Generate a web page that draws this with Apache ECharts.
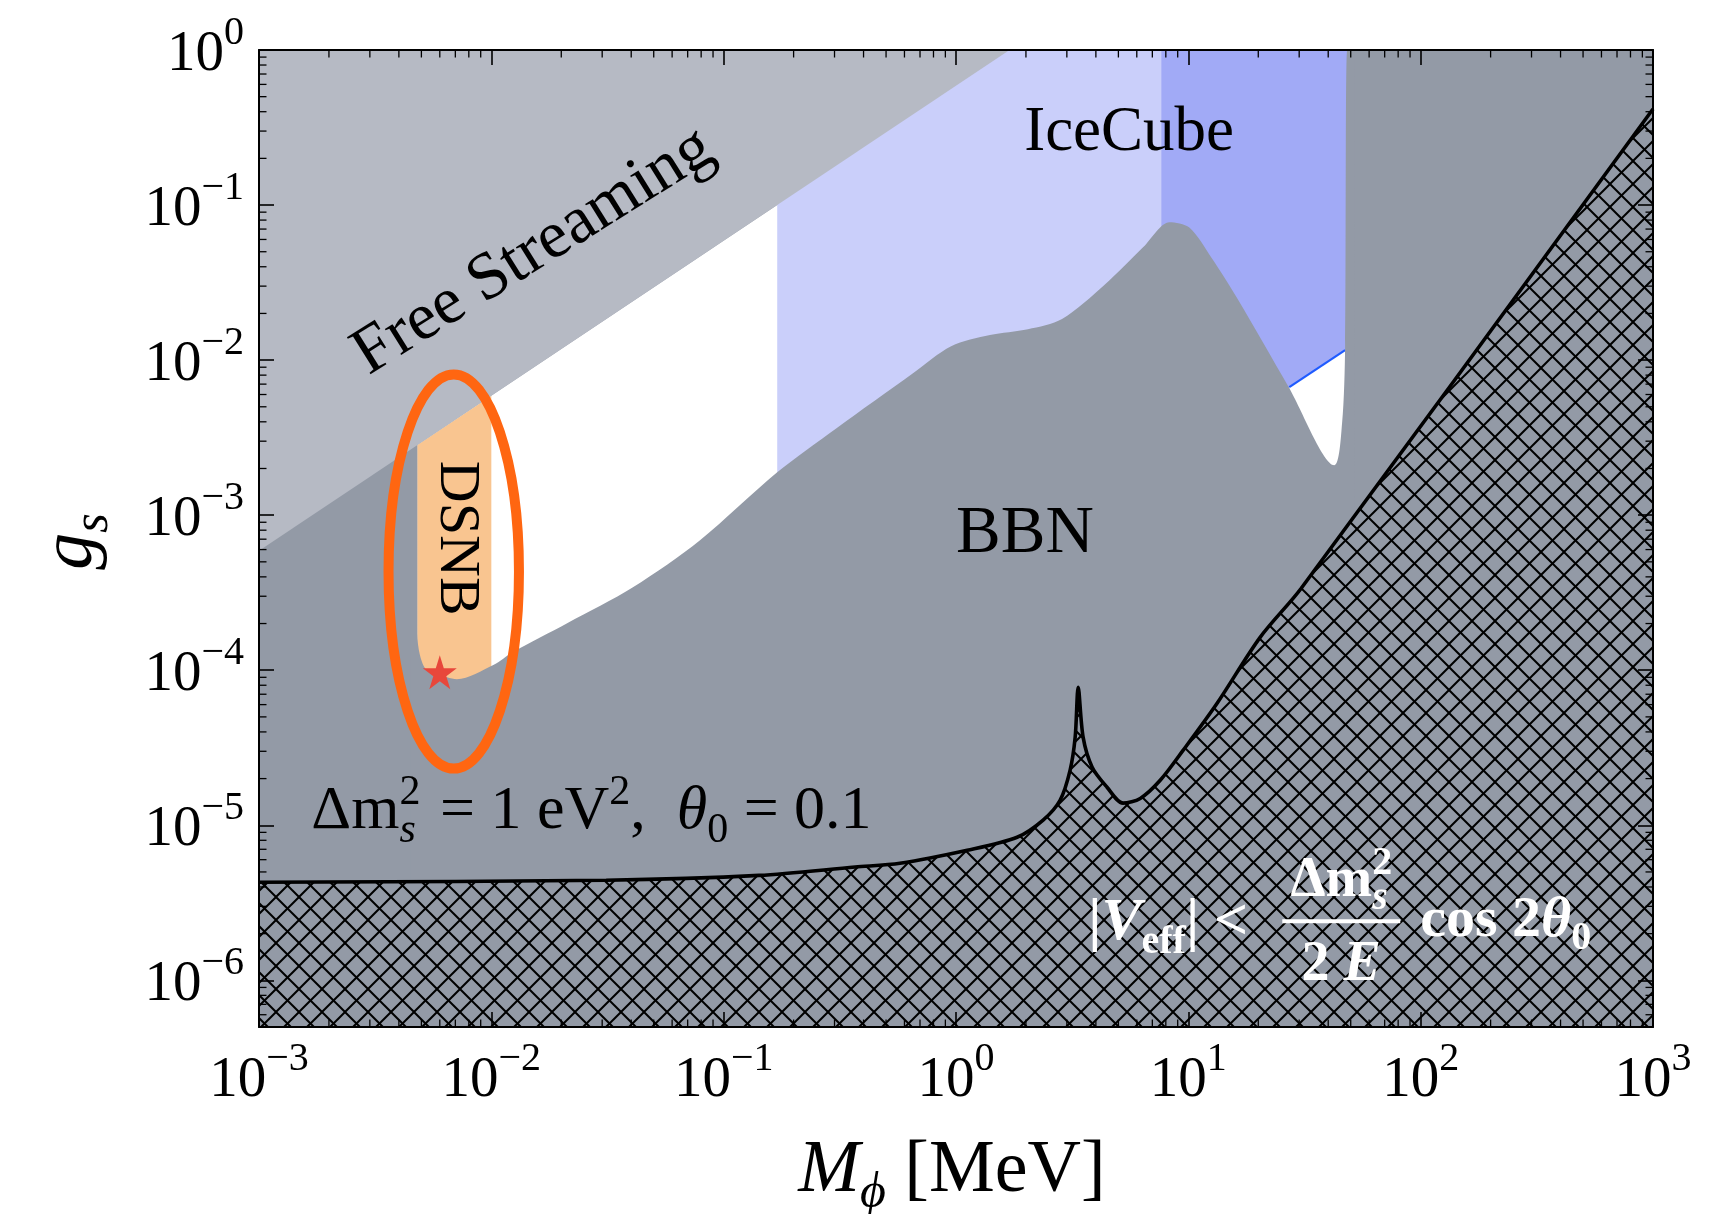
<!DOCTYPE html>
<html>
<head>
<meta charset="utf-8">
<title>g_s vs M_phi constraints</title>
<script src="https://cdn.jsdelivr.net/npm/echarts@6/dist/echarts.min.js"></script>
<style>
  html, body { margin: 0; padding: 0; background: #fff; }
  #chart { width: 1728px; height: 1214px; }
</style>
</head>
<body>
<div id="chart"></div>
<script>
// axis ranges: M_phi in MeV, g_s dimensionless (both log10)
var xRange = [1e-3, 1e3];
var yRange = [5e-7, 1];
var xTickExp = [-3, -2, -1, 0, 1, 2, 3];
var yTickExp = [-6, -5, -4, -3, -2, -1, 0];

// free streaming bound, excluded above the line
var fsM = [1e-3, 1.7];
var fsG = [5.9e-4, 1];

// top edge of the allowed (white) window
var openM = [4.8e-3, 1.7, 48.3];
var openG = [2.83e-3, 1, 1];

// DSNB strip
var dsnbM = [4.8e-3, 1.0e-2];
var dsnbG = [2.83e-3, 5.9e-3];

// IceCube bands
var iceLightM = [0.17, 7.64];
var iceLightG = [1, 1];
var iceDarkM = [7.64, 48.3];
var iceDarkG = [1, 1];
var iceEdgeM = [27.2, 47.3];
var iceEdgeG = [6.7e-3, 1.16e-2];

// BBN bound, excluded below
var bbnM = [4.5e-3, 4.8e-3, 4.8e-3, 4.93e-3, 5.28e-3, 6.44e-3, 7.11e-3, 1.02e-2, 1.24e-2, 2.12e-2, 4.07e-2,
  7.91e-2, 0.170, 0.306, 0.653, 0.953, 1.40, 2.04, 2.86, 4.35, 6.40,
  8.30, 10.1, 12.6, 16.4, 26.9, 42.5, 45.9, 47.3, 48.3, 52];
var bbnG = [2.65e-3, 2.83e-3, 1.73e-4, 1.25e-4, 1.0e-4, 9.0e-5, 8.75e-5, 1.08e-4, 1.31e-4, 2.01e-4, 3.43e-4,
  6.9e-4, 1.89e-3, 3.64e-3, 8.24e-3, 1.23e-2, 1.45e-2, 1.58e-2, 1.84e-2, 3.05e-2, 5.36e-2,
  7.76e-2, 7.16e-2, 4.55e-2, 2.44e-2, 6.79e-3, 2.10e-3, 3.93e-3, 1.23e-2, 1, 1];

// |V_eff| < dm^2/2E cos 2theta0 boundary (hatched below)
var veffM = [1e-3, 0.0312, 0.142, 0.368, 0.574, 1.117, 1.832, 2.371, 2.805, 3.097,
  3.258, 3.357, 3.524, 3.855, 4.467, 5.236, 6.209, 7.568, 9.506, 13.30,
  20.37, 30.62, 1000];
var veffG = [4.29e-6, 4.42e-6, 4.75e-6, 5.38e-6, 5.69e-6, 6.90e-6, 8.37e-6, 1.08e-5, 1.45e-5, 2.26e-5,
  3.70e-5, 7.76e-5, 3.70e-5, 2.37e-5, 1.76e-5, 1.39e-5, 1.49e-5, 1.95e-5, 3.05e-5, 6.12e-5,
  1.63e-4, 3.38e-4, 0.416];

// orange oval around the DSNB window, and the benchmark star
var ovalM = [3.61e-3, 1.315e-2];
var ovalG = [2.32e-5, 8.09e-3];
var starM = [6.0e-3];
var starG = [9.7e-5];

var lg = Math.log10;
function pts(ms, gs) {
  return ms.map(function (m, i) { return [lg(m), lg(gs[i])]; });
}
var X0 = lg(xRange[0]), X1 = lg(xRange[1]), Y0 = lg(yRange[0]), Y1 = lg(yRange[1]);

var C = {
  bbn: '#939aa6', fs: '#b6bac4', iceLight: '#cacffa', iceDark: '#a1aaf6',
  dsnb: '#f9c590', edge: '#1f5bff', oval: '#ff6611', star: '#e8473b'
};
var SERIF = 'Liberation Serif, Times New Roman, serif';

function hatch() {
  var s = 23, c = document.createElement('canvas');
  c.width = s; c.height = s;
  var g = c.getContext('2d');
  g.fillStyle = C.bbn;
  g.fillRect(0, 0, s, s);
  g.strokeStyle = '#000';
  g.lineWidth = 2;
  [-s, 0, s].forEach(function (o) {
    g.beginPath(); g.moveTo(o, 0); g.lineTo(o + s, s); g.stroke();
    g.beginPath(); g.moveTo(o + s, 0); g.lineTo(o, s); g.stroke();
  });
  return c;
}

function area(name, data, color, z, extra) {
  var s = {
    name: name, type: 'line', data: data, z: z, symbol: 'none', silent: true,
    lineStyle: { width: 0 },
    areaStyle: { color: color, opacity: 1, origin: 'start' }
  };
  for (var k in (extra || {})) s[k] = extra[k];
  return s;
}

function expLabel(v) {
  var e = Math.round(v);
  if (Math.abs(v - e) > 1e-6) return '';
  return '{b|10}{s|' + (e < 0 ? '\u2212' + (-e) : e) + '}';
}
var labelRich = {
  b: { fontFamily: SERIF, fontSize: 57, color: '#000', padding: [10, 0, 0, 0] },
  s: { fontFamily: SERIF, fontSize: 40, color: '#000', padding: [0, 0, 34, 0] }
};

function xAx(pos, show) {
  return {
    type: 'value', position: pos, min: X0, max: X1, interval: 1, z: 50,
    axisLine: { show: true, onZero: false, lineStyle: { color: '#000', width: 2 } },
    axisTick: { show: true, inside: true, length: 15, lineStyle: { color: '#000', width: 1.6 } },
    splitLine: { show: false },
    axisLabel: show ? { show: true, margin: 12, formatter: expLabel, rich: labelRich } : { show: false }
  };
}
function yAx(pos, show) {
  return {
    type: 'value', position: pos, min: Y0, max: Y1, minInterval: 1, maxInterval: 1, z: 50,
    axisLine: { show: true, onZero: false, lineStyle: { color: '#000', width: 2 } },
    axisTick: { show: true, inside: true, length: 15, lineStyle: { color: '#000', width: 1.6 } },
    splitLine: { show: false },
    axisLabel: show ? { show: true, margin: 15, formatter: expLabel, rich: labelRich } : { show: false }
  };
}

// minor ticks at 2..9 of every decade, all four sides
var minorTicks = [];
var d, k, v;
for (d = Math.floor(X0); d < X1; d++) {
  for (k = 2; k < 10; k++) {
    v = d + lg(k);
    if (v > X0 && v < X1) { minorTicks.push([v, 0]); minorTicks.push([v, 1]); }
  }
}
for (d = Math.floor(Y0); d < Y1; d++) {
  for (k = 2; k < 10; k++) {
    v = d + lg(k);
    if (v > Y0 + 1e-6 && v < Y1) { minorTicks.push([v, 2]); minorTicks.push([v, 3]); }
  }
}

var chart = echarts.init(document.getElementById('chart'));
var option = {
  animation: false,
  backgroundColor: '#fff',
  grid: { left: 259, right: 75, top: 50, bottom: 187, show: true, backgroundColor: C.bbn, borderWidth: 0, outerBoundsMode: 'none' },
  xAxis: [xAx('bottom', true), xAx('top', false)],
  yAxis: [yAx('left', true), yAx('right', false)],
  series: [
    area('open', pts(openM, openG), '#fff', 2),
    area('IceCube', pts(iceLightM, iceLightG), C.iceLight, 3),
    area('IceCube 2', pts(iceDarkM, iceDarkG), C.iceDark, 4),
    area('IceCube edge', pts(iceEdgeM, iceEdgeG), '#fff', 5, { lineStyle: { width: 2.2, color: C.edge } }),
    area('DSNB', pts(dsnbM, dsnbG), C.dsnb, 6),
    area('BBN', pts(bbnM, bbnG), C.bbn, 7, { smooth: 0.3 }),
    area('Free Streaming', pts(fsM, fsG), C.fs, 8, {
      areaStyle: { color: C.fs, opacity: 1, origin: 'end' }
    }),
    area('Veff', pts(veffM, veffG), { image: hatch(), repeat: 'repeat' }, 9, {
      smooth: 0.3,
      lineStyle: { width: 3.6, color: '#000' }
    }),
    {
      name: 'minor ticks', type: 'custom', z: 55, silent: true, data: minorTicks,
      renderItem: function (params, api) {
        var val = api.value(0), side = api.value(1), cs = params.coordSys, L = 7.5, x, y, shape;
        if (side < 2) {
          x = api.coord([val, Y0])[0];
          y = side === 0 ? cs.y + cs.height : cs.y;
          shape = { x1: x, y1: y, x2: x, y2: side === 0 ? y - L : y + L };
        } else {
          y = api.coord([X0, val])[1];
          x = side === 2 ? cs.x : cs.x + cs.width;
          shape = { x1: x, y1: y, x2: side === 2 ? x + L : x - L, y2: y };
        }
        return { type: 'line', shape: shape, style: { stroke: '#000', lineWidth: 1.3 } };
      }
    },
    {
      name: 'oval', type: 'custom', z: 60, silent: true,
      data: [[lg(ovalM[0]), lg(ovalG[0]), lg(ovalM[1]), lg(ovalG[1])]],
      renderItem: function (params, api) {
        var a = api.coord([api.value(0), api.value(1)]);
        var b = api.coord([api.value(2), api.value(3)]);
        return {
          type: 'ellipse',
          shape: { cx: (a[0] + b[0]) / 2, cy: (a[1] + b[1]) / 2, rx: Math.abs(b[0] - a[0]) / 2, ry: Math.abs(b[1] - a[1]) / 2 },
          style: { fill: 'none', stroke: C.oval, lineWidth: 10 }
        };
      }
    },
    {
      name: 'benchmark', type: 'scatter', z: 70, silent: true, data: pts(starM, starG),
      symbol: 'path://M50 0L61.2 34.5H97.6L68.2 55.9L79.4 90.5L50 69.1L20.6 90.5L31.8 55.9L2.4 34.5H38.8Z',
      symbolSize: 34, itemStyle: { color: C.star, opacity: 1 }
    }
  ]
};
chart.setOption(option);

// ---- text annotations ----
var ctx2d = document.createElement('canvas').getContext('2d');
function fontOf(p) {
  return (p.it ? 'italic ' : '') + (p.b ? 'bold ' : '') + p.s + 'px ' + SERIF;
}
// one baseline run of text pieces; a piece may hold a sup/sub stack
function run(pieces, o) {
  var kids = [], x = 0;
  pieces.forEach(function (p) {
    var stack = p.stack || [p];
    var w = 0;
    stack.forEach(function (q) {
      var f = fontOf(q);
      ctx2d.font = f;
      w = Math.max(w, ctx2d.measureText(q.t).width);
      kids.push({
        type: 'text', x: x, y: (q.dy || 0) - 0.3375 * q.s, z: 100,
        style: { text: q.t, font: f, fill: o.color || '#000', align: 'left', verticalAlign: 'middle' }
      });
    });
    x += w + (p.gap || 0);
  });
  var dx = o.align === 'center' ? -x / 2 : (o.align === 'right' ? -x : 0);
  var dy = o.vcenter || 0;
  kids.forEach(function (kid) { kid.x += dx; kid.y += dy; });
  return { type: 'group', x: o.x, y: o.y, rotation: o.rot || 0, silent: true, z: 100, children: kids };
}
function px(m, g) { return chart.convertToPixel({ gridIndex: 0 }, [lg(m), lg(g)]); }

var g = [], p;
var lo = px(xRange[0], yRange[0]), hi = px(xRange[1], yRange[1]);

p = px(5.56, 0.21);
g.push(run([{ t: 'IceCube', s: 63 }], { x: p[0], y: p[1], align: 'center' }));
p = px(1.98, 5.36e-4);
g.push(run([{ t: 'BBN', s: 67 }], { x: p[0], y: p[1], align: 'center' }));
p = px(7.05e-3, 7.1e-4);
g.push(run([{ t: 'DSNB', s: 58 }], { x: p[0], y: p[1], align: 'center', vcenter: 19, rot: -Math.PI / 2 }));
p = px(0.0171, 0.0376);
g.push(run([{ t: 'Free Streaming', s: 67 }], { x: p[0], y: p[1], align: 'center', rot: 32 * Math.PI / 180 }));

p = px(1.68e-3, 9.0e-6);
g.push(run([
  { t: '\u0394m', s: 62 },
  { stack: [{ t: '2', s: 42, dy: -25 }, { t: 's', s: 42, it: 1, dy: 13 }], gap: 4 },
  { t: ' = 1 eV', s: 62 },
  { t: '2', s: 42, dy: -25 },
  { t: ',  ', s: 62 },
  { t: '\u03b8', s: 62, it: 1 },
  { t: '0', s: 42, dy: 13 },
  { t: ' = 0.1', s: 62 }
], { x: p[0], y: p[1] }));

p = px(3.71, 1.71e-6);
var W = '#fff';
g.push(run([
  { t: '|', s: 60, b: 1 },
  { t: 'V', s: 60, b: 1, it: 1 },
  { t: 'eff', s: 40, b: 1, dy: 12 },
  { t: '| <', s: 60, b: 1 }
], { x: p[0], y: p[1], color: W }));
g.push(run([
  { t: '\u0394m', s: 56, b: 1 },
  { stack: [{ t: '2', s: 40, b: 1, dy: -23 }, { t: 's', s: 40, b: 1, it: 1, dy: 12 }] }
], { x: p[0] + 253, y: p[1] - 44, align: 'center', color: W }));
g.push(run([
  { t: '2 ', s: 56, b: 1 },
  { t: 'E', s: 56, b: 1, it: 1 }
], { x: p[0] + 253, y: p[1] + 40, align: 'center', color: W }));
g.push({ type: 'rect', silent: true, z: 100, shape: { x: p[0] + 194, y: p[1] - 25, width: 118, height: 4 }, style: { fill: W } });
g.push(run([
  { t: 'cos 2', s: 58, b: 1 },
  { t: '\u03b8', s: 58, b: 1, it: 1 },
  { t: '0', s: 40, b: 1, dy: 12 }
], { x: p[0] + 332, y: p[1] - 4, color: W }));

// axis titles
g.push(run([
  { t: 'M', s: 74, it: 1 },
  { t: '\u03d5', s: 50, it: 1, dy: 14 },
  { t: ' [MeV]', s: 74 }
], { x: (lo[0] + hi[0]) / 2 - 4, y: lo[1] + 170, align: 'center' }));
g.push(run([
  { t: 'g', s: 74, it: 1 },
  { t: 's', s: 50, it: 1, dy: 14 }
], { x: lo[0] - 162, y: (lo[1] + hi[1]) / 2 + 3, align: 'center', rot: Math.PI / 2 }));

chart.setOption({ graphic: { elements: g } });
</script>
</body>
</html>
